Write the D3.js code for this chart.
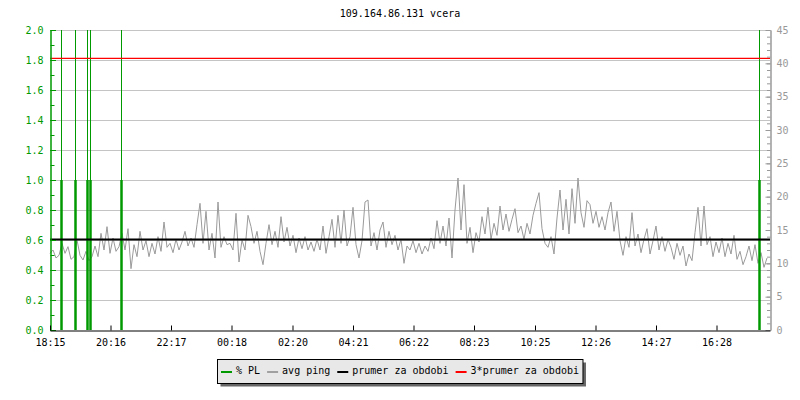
<!DOCTYPE html>
<html>
<head>
<meta charset="utf-8">
<script src="https://cdn.jsdelivr.net/npm/d3@7"></script>
<style>
  body { margin: 0; background: #fff; }
  svg { display: block; font-family: "DejaVu Sans Mono", monospace; font-size: 10px; }
</style>
</head>
<body>
<svg id="chart" width="800" height="400"></svg>
<script>
// ---------- DATA ----------
const titleText = "109.164.86.131 vcera";
const startTime = "18:15";
const tickLabels = ["18:15","20:16","22:17","00:18","02:20","04:21","06:22","08:23","10:25","12:26","14:27","16:28"];
const sampleStepMin = 6; // avg ping sampled every 6 minutes from 18:15
const avgPing = [
  // 18:15 - 00:15
  11.5,12.0,10.8,11.2,13.0,11.5,12.5,10.6,11.0,13.5,11.2,10.5,11.8,10.4,11.0,12.6,11.0,14.5,12.0,15.5,
  11.5,13.8,11.8,12.5,14.5,12.0,15.2,9.2,12.8,11.0,14.8,12.0,13.4,11.0,13.0,11.4,14.0,11.8,16.2,12.4,
  13.0,11.6,13.6,12.0,13.2,14.8,12.6,13.8,12.4,15.8,19.0,13.0,17.8,12.0,14.5,10.8,19.2,12.4,14.0,12.8,
  // 00:15 - 06:15
  13.0,12.0,17.5,10.2,13.5,12.0,17.2,15.5,13.0,14.8,11.8,9.8,13.0,15.8,12.8,14.8,12.4,17.0,13.2,15.4,
  12.6,14.2,11.6,13.8,12.2,14.0,12.0,13.2,11.8,13.6,12.0,15.6,11.5,14.0,16.6,12.4,17.2,13.0,18.0,12.6,
  14.0,18.4,12.8,10.8,13.4,19.2,19.5,12.6,14.6,12.0,15.0,16.2,12.4,14.8,12.8,14.2,12.0,13.6,10.0,12.6,
  // 06:15 - 12:15
  12.0,13.4,11.6,13.0,11.4,12.6,11.8,13.8,12.2,16.4,13.0,15.6,12.6,16.8,10.8,18.0,22.8,15.0,21.8,13.0,
  15.4,11.6,14.6,13.2,17.0,14.4,18.4,13.6,16.0,14.2,18.6,15.0,17.4,14.8,16.6,18.2,14.6,15.6,13.6,16.0,
  14.4,17.2,19.0,20.6,15.2,13.0,12.4,14.0,11.4,16.8,21.0,15.0,19.6,14.4,21.2,16.0,22.8,17.6,15.4,19.4,
  // 12:15 - 18:15
  18.8,16.0,17.8,15.4,17.0,15.0,17.6,19.2,14.8,17.8,13.4,11.2,14.0,12.4,17.6,12.6,14.4,11.6,13.6,15.2,
  11.4,13.4,15.6,12.0,14.0,11.8,13.6,12.4,10.6,13.0,11.2,12.6,9.6,11.4,10.4,14.6,18.4,12.6,18.6,12.8,
  14.0,11.0,13.2,11.6,13.8,11.0,13.0,11.4,14.2,10.6,11.8,9.8,11.0,12.6,10.4,12.8,10.0,11.6,9.4,10.8
];
const plTimes = ["18:37","19:05","19:29","19:35","20:37","17:53"]; // packet-loss events
const plValues = [1.0, 1.0, 1.0, 1.0, 1.0, 1.0];                 // % PL (bar part)
const meanPing = 13.58;
const legendLabels = ["% PL", "avg ping", "prumer za obdobi", "3*prumer za obdobi"];
const legendColors = ["#009900", "#a0a0a0", "#000000", "#ff0000"];
const plTicks = [0,0.2,0.4,0.6,0.8,1.0,1.2,1.4,1.6,1.8,2.0];
const pingTicks = [0,5,10,15,20,25,30,35,40,45];

// ---------- HELPERS ----------
function minutesFromStart(hm) {
  const [h, m] = hm.split(":").map(Number);
  const [sh, sm] = startTime.split(":").map(Number);
  return ((h * 60 + m) - (sh * 60 + sm) + 1440) % 1440;
}

// ---------- LAYOUT ----------
const svg = d3.select("#chart");
const L = 50, R = 770, T = 30, B = 330;
const x = d3.scaleLinear().domain([0, 1440]).range([L, R]);
const yL = d3.scaleLinear().domain([0, 2]).range([B, T]);
const yR = d3.scaleLinear().domain([0, 45]).range([B, T]);

const green = "#009900", axisGray = "#999999";

// title
svg.append("text").attr("x", 400).attr("y", 17).attr("text-anchor", "middle")
  .attr("fill", "#000").text(titleText);

// gridlines
svg.append("g").selectAll("line").data(plTicks.filter(d => d > 0)).join("line")
  .attr("x1", L).attr("x2", R)
  .attr("y1", d => yL(d) + 0.5).attr("y2", d => yL(d) + 0.5)
  .attr("stroke", "#c4c4c4").attr("stroke-width", 1);

// avg ping line
const pingData = avgPing.map((v, i) => ({ t: i * sampleStepMin, v }));
svg.append("path").datum(pingData)
  .attr("fill", "none").attr("stroke", "#9a9a9a").attr("stroke-width", 1)
  .attr("d", d3.line().x(d => x(d.t)).y(d => yR(d.v)));

// PL events
const plData = plTimes.map((t, i) => ({ t: minutesFromStart(t), v: plValues[i] }));
const plG = svg.append("g");
plG.selectAll("line.thin").data(plData).join("line").attr("class", "thin")
  .attr("x1", d => Math.round(x(d.t)) + 0.5).attr("x2", d => Math.round(x(d.t)) + 0.5)
  .attr("y1", yL(0)).attr("y2", yL(2))
  .attr("stroke", green).attr("stroke-width", 1);
plG.selectAll("line.thick").data(plData).join("line").attr("class", "thick")
  .attr("x1", d => Math.round(x(d.t)) + 0.5).attr("x2", d => Math.round(x(d.t)) + 0.5)
  .attr("y1", yL(0)).attr("y2", d => yL(d.v))
  .attr("stroke", green).attr("stroke-width", 2.5);

// mean lines
svg.append("line").attr("x1", L).attr("x2", R)
  .attr("y1", yR(meanPing)).attr("y2", yR(meanPing))
  .attr("stroke", "#000").attr("stroke-width", 2);
svg.append("line").attr("x1", L).attr("x2", R)
  .attr("y1", yR(3 * meanPing)).attr("y2", yR(3 * meanPing))
  .attr("stroke", "#ff0000").attr("stroke-width", 1.2);

// left axis (PL %)
const minorPL = d3.range(0, 2.001, 0.1);
const gLm = svg.append("g").attr("transform", `translate(${L + 0.5},0)`)
  .call(d3.axisLeft(yL).tickValues(minorPL).tickSizeInner(-4).tickSizeOuter(0).tickFormat(""));
const gL = svg.append("g").attr("transform", `translate(${L + 0.5},0)`)
  .call(d3.axisLeft(yL).tickValues(plTicks).tickSizeInner(-5.5).tickSizeOuter(0).tickPadding(7)
        .tickFormat(d3.format(".1f")));
[gLm, gL].forEach(g => {
  g.selectAll("path,line").attr("stroke", green);
  g.selectAll("text").attr("fill", green).style("font-family", "DejaVu Sans Mono").style("font-size", "10px");
});

// right axis (ping ms)
const minorPing = d3.range(0, 46, 1);
const gRm = svg.append("g").attr("transform", `translate(${R + 0.5},0)`)
  .call(d3.axisRight(yR).tickValues(minorPing).tickSizeInner(-3.5).tickSizeOuter(0).tickFormat(""));
const gR = svg.append("g").attr("transform", `translate(${R + 0.5},0)`)
  .call(d3.axisRight(yR).tickValues(pingTicks).tickSizeInner(-5).tickSizeOuter(0).tickPadding(6));
[gRm, gR].forEach(g => {
  g.selectAll("path,line").attr("stroke", axisGray);
  g.selectAll("text").attr("fill", axisGray).style("font-family", "DejaVu Sans Mono").style("font-size", "10px");
});

// bottom axis (time)
const gB = svg.append("g").attr("transform", `translate(0,${B + 0.5})`)
  .call(d3.axisBottom(x).tickValues(tickLabels.map(minutesFromStart))
        .tickFormat((d, i) => tickLabels[i]).tickSizeInner(-5).tickSizeOuter(0).tickPadding(8));
gB.selectAll("path,line").attr("stroke", "#000");
gB.selectAll("text").attr("fill", "#000").style("font-family", "DejaVu Sans Mono").style("font-size", "10px");

// legend
const lg = svg.append("g");
const bx = 217.5, by = 359.5;
const shadow = lg.append("rect").attr("fill", "#666");
const box = lg.append("rect").attr("fill", "#e8e8e8").attr("stroke", "#000").attr("stroke-width", 1);
let cx = 221;
legendLabels.forEach((lab, i) => {
  lg.append("line").attr("x1", cx).attr("x2", cx + 11).attr("y1", 372).attr("y2", 372)
    .attr("stroke", legendColors[i]).attr("stroke-width", 2);
  const t = lg.append("text").attr("x", cx + 15).attr("y", 374).attr("fill", "#000").text(lab);
  cx += 15 + t.node().getComputedTextLength() + 7;
});
const bw = cx - 3 - bx;
box.attr("x", bx).attr("y", by).attr("width", bw).attr("height", 24);
shadow.attr("x", bx + 3).attr("y", by + 3).attr("width", bw).attr("height", 24);
</script>
</body>
</html>
